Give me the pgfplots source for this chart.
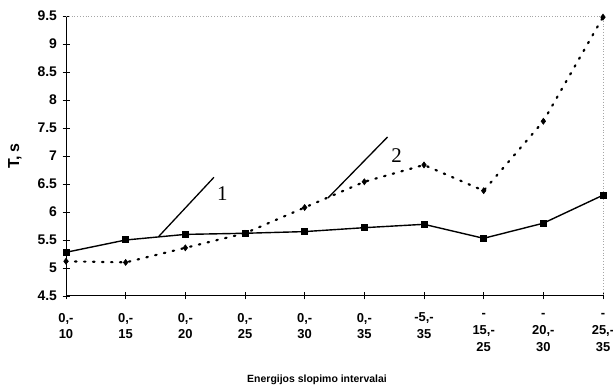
\documentclass[border=0pt]{standalone}
\usepackage{fontspec}
\setmainfont{Liberation Sans}
\newfontfamily\seriffont{Liberation Serif}
\usepackage{pgfplots}
\pgfplotsset{compat=1.18}
\usetikzlibrary{calc}

% T (s) by energy attenuation interval: curve 1 and curve 2
\pgfplotstableread{
x  t
0  5.28
1  5.50
2  5.60
3  5.62
4  5.65
5  5.72
6  5.78
7  5.53
8  5.80
9  6.30
}\curveone
\pgfplotstableread{
x  t
0  5.12
1  5.10
2  5.36
3  5.62
4  6.08
5  6.54
6  6.84
7  6.38
8  7.62
9  9.48
}\curvetwo

\begin{document}
\begin{tikzpicture}[x=1bp,y=1bp]
\begin{axis}[
  scale only axis,
  width=537bp, height=280bp,
  xmin=0, xmax=9, ymin=4.5, ymax=9.5,
  axis lines*=left,
  axis line style={-, line width=1bp, black},
  xtick={0,...,9},
  xticklabels={{0,-\\10},{0,-\\15},{0,-\\20},{0,-\\25},{0,-\\30},{0,-\\35},{-5,-\\35},{-\\15,-\\25},{-\\20,-\\30},{-\\25,-\\35}},
  xticklabel style={align=center, anchor=north, yshift=-10bp, font=\fontsize{13}{17}\selectfont\bfseries},
  ytick={4.5,5,...,9.5},
  yticklabel style={font=\fontsize{14}{15}\selectfont\bfseries, xshift=-2bp},
  /pgf/number format/assume math mode=true,
  tick align=center,
  major tick length=7bp,
  tick style={black, line width=0.8bp},
  clip=false,
]
  % faint plot-area border on top and right
  \draw[gray!70, dotted, line width=0.8bp] (axis cs:0,9.5) -- (axis cs:9,9.5) -- (axis cs:9,4.5);

  \addplot[black, line width=1.4bp, mark=square*, mark size=2.8bp,
           mark options={solid}] table[x=x, y=t] {\curveone};
  \addplot[black, line width=2.2bp, line cap=round, dash pattern=on 1.5bp off 7.5bp,
           mark=diamond*, mark size=3bp, mark options={solid, line width=0.6bp}] table[x=x, y=t] {\curvetwo};

  % curve labels
  \draw[black, line width=1.3bp] (axis cs:1.56,5.57) -- (axis cs:2.48,6.62);
  \node[font=\seriffont\fontsize{21}{21}\selectfont] at (axis cs:2.62,6.33) {1};
  \draw[black, line width=1.3bp] (axis cs:4.39,6.25) -- (axis cs:5.39,7.34);
  \node[font=\seriffont\fontsize{21}{21}\selectfont] at (axis cs:5.54,7.0) {2};

  \coordinate (sw) at (rel axis cs:0,0);
  \coordinate (ne) at (rel axis cs:1,1);
  \coordinate (ymid) at (rel axis cs:0,0.5);
\end{axis}
\node[rotate=90, font=\fontsize{16}{18}\selectfont\bfseries] at ($(ymid)+(-51bp,0)$) {T, s};
\node[font=\fontsize{10.5}{12}\selectfont\bfseries] at ($(sw)+(251bp,-84bp)$) {Energijos slopimo intervalai};
\pgfresetboundingbox
\path[use as bounding box] ($(sw)+(-66bp,-92bp)$) rectangle ($(ne)+(10bp,16bp)$);
\end{tikzpicture}
\end{document}
